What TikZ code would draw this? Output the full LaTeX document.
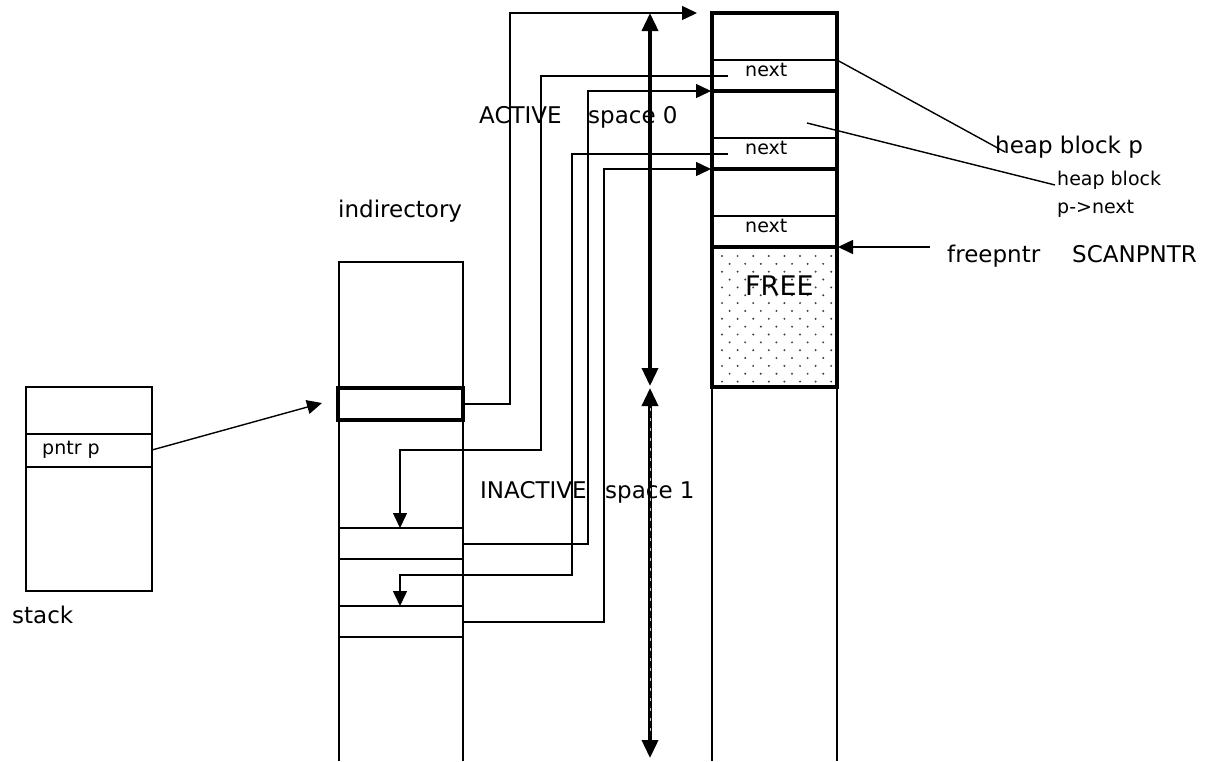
\documentclass[tikz,border=0pt]{standalone}
\usepackage{fontspec}
\setmainfont{DejaVu Sans}
\usetikzlibrary{arrows.meta}
\tikzset{
  biglbl/.style    = {font=\fontsize{23}{26}\selectfont, inner sep=0pt, anchor=base west},
  smalllbl/.style  = {font=\fontsize{19}{22}\selectfont, inner sep=0pt, anchor=base west},
  thinline/.style  = {line width=1.4pt},
  thickline/.style = {line width=3.6pt},
  ptr/.style       = {thinline, -{Triangle[length=15pt,width=14pt]}},
  bigptr/.style    = {thickline, {Triangle[length=18pt,width=16pt]}-{Triangle[length=18pt,width=16pt]}}
}

\begin{document}
\begin{tikzpicture}[x=1pt, y=-1pt]
  \useasboundingbox (0,0) rectangle (1207,761);

  % stack
  \draw[thinline] (26,387) rectangle (152,591);
  \draw[thinline] (26,434) -- (152,434);
  \draw[thinline] (26,467) -- (152,467);
  \node[smalllbl] (pntrlbl) at (42,454) {pntr p};
  \node[biglbl] (stacklbl) at (12,623) {stack};

  % indirectory
  \draw[thinline] (339,761) -- (339,262) -- (463,262) -- (463,761);
  \draw[thickline] (338,388) rectangle (463,420);
  \foreach \yy in {528,559,606,637}
    \draw[thinline] (339,\yy) -- (463,\yy);
  \node[biglbl] (indlbl) at (338,217) {indirectory};

  % heap: space 0 blocks, free area, rest
  \draw[thickline] (712,13) rectangle (837,247);
  \draw[thickline] (712,91) -- (837,91);
  \draw[thickline] (712,169) -- (837,169);
  \foreach \yy in {60,138,216}
    \draw[thinline] (712,\yy) -- (837,\yy);
  \foreach \r [evaluate=\r as \dx using {mod(\r,2)*7.6},
               evaluate=\r as \cmax using {int(7-mod(\r,2))}] in {0,...,16}
    \foreach \c in {0,...,\cmax}
      \fill[black!75] ({722+15.6*\c+\dx},{256+7.85*\r}) circle (1.1);
  \draw[thickline] (712,247) rectangle (837,387);
  \draw[thinline] (712,387) -- (712,761);
  \draw[thinline] (837,387) -- (837,761);
  \node[font=\fontsize{27}{30}\selectfont, inner sep=0pt, anchor=base west] (freelbl) at (745,295) {FREE};
  \node[smalllbl] (next0) at (745,76) {next};
  \node[smalllbl] (next1) at (745,154) {next};
  \node[smalllbl] (next2) at (745,232) {next};

  % space arrows
  \draw[bigptr] (650,13) -- (650,386);
  \draw[bigptr] (650,388) -- (650,758);
  \draw[gray!50, line width=1pt, dash pattern=on 3pt off 7pt] (650,408) -- (650,738);
  \node[biglbl] (actlbl) at (479,123) {ACTIVE};
  \node[biglbl] (sp0lbl) at (588,123) {space 0};
  \node[biglbl] (inactlbl) at (480,498) {INACTIVE};
  \node[biglbl] (sp1lbl) at (605,498) {space 1};

  % labels on the right
  \node[biglbl] (hbplbl) at (995,153) {heap block p};
  \node[smalllbl] (hbnlbl) at (1057,185) {heap block};
  \node[smalllbl] (nextlbl) at (1057,213) {p->next};
  \node[biglbl] (fplbl) at (947,262) {freepntr};
  \node[biglbl] (scanlbl) at (1072,262) {SCANPNTR};

  % pointer ends
  \coordinate (pntr) at (152,450);
  \coordinate (indtop) at (322,403);
  \coordinate (ind0) at (463,404);
  \coordinate (ind1) at (463,544);
  \coordinate (ind3) at (463,622);
  \coordinate (cell1) at (400,528);
  \coordinate (cell3) at (400,606);
  \coordinate (blk0) at (697,13);
  \coordinate (blk1) at (711,91);
  \coordinate (blk2) at (711,169);
  \coordinate (nxt0) at (728,76);
  \coordinate (nxt1) at (728,154);
  \coordinate (hb0) at (837,60);
  \coordinate (hb1) at (807,123);
  \coordinate (hbpend) at (1005,152);
  \coordinate (hbnend) at (1055,185);
  \coordinate (fpstart) at (930,247);
  \coordinate (fpend) at (838,247);

  % connectors
  \draw[ptr] (pntr) -- (indtop);
  \draw[ptr] (ind0) -- ++(47,0) |- (blk0);
  \draw[ptr] (nxt0) -| (541,450) -| (cell1);
  \draw[ptr] (ind1) -- ++(125,0) |- (blk1);
  \draw[ptr] (nxt1) -| (572,575) -| (cell3);
  \draw[ptr] (ind3) -- ++(141,0) |- (blk2);
  \draw[thinline] (hb0) -- (hbpend);
  \draw[thinline] (hb1) -- (hbnend);
  \draw[ptr] (fpstart) -- (fpend);
\end{tikzpicture}
\end{document}
